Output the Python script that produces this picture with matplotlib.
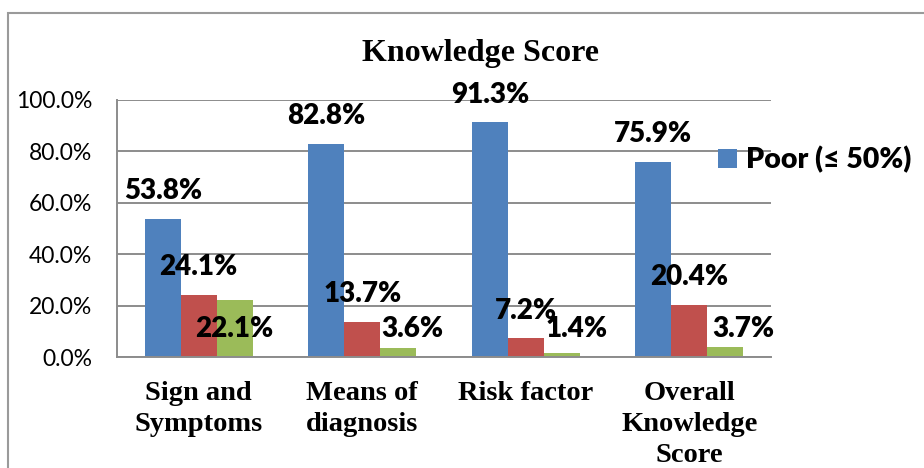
import matplotlib
import matplotlib.pyplot as plt
import matplotlib.ticker as mticker
import numpy as np
from matplotlib.patches import Rectangle

matplotlib.use('agg')

categories = ['Sign and\nSymptoms', 'Means of\ndiagnosis', 'Risk factor', 'Overall\nKnowledge\nScore']
poor = [53.8, 82.8, 91.3, 75.9]
average = [24.1, 13.7, 7.2, 20.4]
good = [22.1, 3.6, 1.4, 3.7]
series_names = ['Poor (\u2264 50%)', 'Average', 'Good']
colors = ['#4F81BD', '#C0504D', '#9BBB59']

sans = ['Lato', 'DejaVu Sans']
serif = ['Liberation Serif', 'DejaVu Serif']
grid_color = '#8c8c8c'

fig = plt.figure(figsize=(9.24, 4.68), dpi=100)
ax = fig.add_axes([117 / 924, 1 - 357 / 468, 654 / 924, 257 / 468])

x = np.arange(len(categories))
w = 0.22
bars = []
for i, (vals, c, name) in enumerate(zip([poor, average, good], colors, series_names)):
    b = ax.bar(x + (i - 1) * w, vals, width=w, color=c, label=name, zorder=2)
    bars.append(b)

ax.set_xlim(-0.5, len(categories) - 0.5)
ax.set_ylim(0, 100)
ax.yaxis.set_major_locator(mticker.MultipleLocator(20))
ax.yaxis.set_major_formatter(mticker.FormatStrFormatter('%.1f%%'))
ax.grid(axis='y', color=grid_color, linewidth=1.4, zorder=0)
ax.set_axisbelow(True)
for s in ['top', 'right']:
    ax.spines[s].set_visible(False)
for s in ['left', 'bottom']:
    ax.spines[s].set_color(grid_color)
    ax.spines[s].set_linewidth(1.4)
ax.tick_params(axis='y', length=0, pad=18)
ax.tick_params(axis='x', length=0, pad=17)
for lab in ax.get_yticklabels():
    lab.set_family(sans)
    lab.set_fontsize(16.5)
ax.set_xticks(x)
ax.set_xticklabels(categories, family=serif, fontweight='bold', fontsize=20.5,
                   linespacing=1.33, va='top')

# value labels
label_kw = dict(textcoords='offset points', ha='center', va='center',
                family=sans, fontweight='heavy', fontsize=20, color='black', zorder=5)
for i in range(len(categories)):
    ax.annotate(f'{poor[i]:.1f}%', (x[i] - w, poor[i]), xytext=(0, 20), **label_kw)
    ax.annotate(f'{average[i]:.1f}%', (x[i], average[i]), xytext=(0, 20), **label_kw)
green_dx = [0, 10, 11, 13]
for i in range(len(categories)):
    ax.annotate(f'{good[i]:.1f}%', (x[i] + w, 0), xytext=(green_dx[i], 20), **label_kw)

fig.text(481 / 924, 1 - 53 / 468, 'Knowledge Score', family=serif, fontweight='bold',
         fontsize=23, ha='center', va='center')

fig.legend(handles=[bars[0]], labels=[series_names[0]], loc='center left',
           bbox_to_anchor=(718 / 924, 1 - 160 / 468), frameon=False,
           borderpad=0, borderaxespad=0, handlelength=0.65, handleheight=0.65,
           handletextpad=0.35, prop=dict(family=sans, weight='heavy', size=20.5))

# outer chart frame (cropped at right and bottom)
fig.patches.append(Rectangle((8 / 924, -0.1), 1.2, 1 - 13 / 468 + 0.1,
                             transform=fig.transFigure, fill=False,
                             edgecolor='#9a9a9a', linewidth=1.5))

plt.savefig('out.png', dpi=100)
